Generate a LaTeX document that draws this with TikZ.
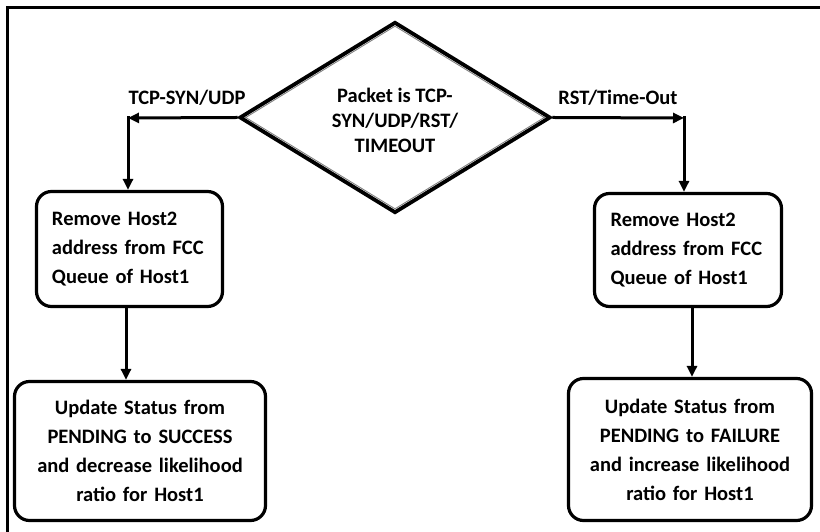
\documentclass[tikz,border=0pt]{standalone}
\usepackage{fontspec}
\setmainfont{Carlito}
\usetikzlibrary{shapes.geometric,arrows.meta,positioning}

\tikzset{
  txt/.style={font=\fontsize{20.5bp}{29bp}\selectfont\bfseries},
  procbox/.style={txt, draw, line width=3.2bp, rounded corners=15bp, inner ysep=0bp},
  leftbox/.style={procbox, align=left, text width=155bp, inner xsep=15.5bp},
  centerbox/.style={procbox, align=center},
  arr/.style={line width=3bp, -{Triangle[length=11bp,width=10bp]}},
  lbl/.style={txt, inner sep=0bp},
}

\begin{document}
\begin{tikzpicture}[x=1bp, y=1bp]
  \useasboundingbox (0,0) rectangle (820,532);

  % frame edges
  \draw[line width=3bp] (7.5,0) -- (7.5,524) -- (822,524);

  % decision diamond with an inner grey rule
  \node[diamond, draw, line width=3.8bp, minimum width=311bp, minimum height=191bp,
        inner sep=0bp] (dec) at (395,414.5) {};
  \node[diamond, draw=gray, line width=0.9bp, minimum width=299bp, minimum height=183bp,
        inner sep=0bp] (decin) at (dec.center) {};
  \node[txt, align=center, font=\fontsize{20.5bp}{25bp}\selectfont\bfseries] (dectext) at (395,412)
    {Packet is TCP-\\SYN/UDP/RST/\\TIMEOUT};

  % process boxes
  \node[leftbox, minimum width=186bp, minimum height=115bp] (L1) at (129.5,283)
    {Remove Host2\\address from FCC\\Queue of Host1};
  \node[leftbox, minimum width=187bp, minimum height=113bp] (R1) at (688,282)
    {Remove Host2\\address from FCC\\Queue of Host1};
  \node[centerbox, minimum width=251bp, minimum height=139bp, text width=240bp] (L2) at (140,81)
    {Update Status from\\PENDING to SUCCESS\\and decrease likelihood\\ratio for Host1};
  \node[centerbox, minimum width=243bp, minimum height=142bp, text width=236bp] (R2) at (690,82.5)
    {Update Status from\\PENDING to FAILURE\\and increase likelihood\\ratio for Host1};

  % branch labels
  \node[lbl] (lblL) at (187,434) {TCP-SYN/UDP};
  \node[lbl] (lblR) at (618,434) {RST/Time-Out};

  % connectors
  \coordinate (cornL) at (128,414);
  \coordinate (cornR) at (684,414);
  \draw[arr] (dec.west) -- (cornL);
  \draw[arr] ([yshift=1.5bp]cornL) -- (cornL |- L1.north);
  \draw[arr] (dec.east) -- (cornR);
  \draw[arr] ([yshift=1.5bp]cornR) -- (cornR |- R1.north);
  \draw[arr] ([xshift=-3.5bp]L1.south) -- ([xshift=-3.5bp]L1.south |- L2.north);
  \draw[arr] ([xshift=4bp]R1.south) -- ([xshift=4bp]R1.south |- R2.north);
\end{tikzpicture}
\end{document}
